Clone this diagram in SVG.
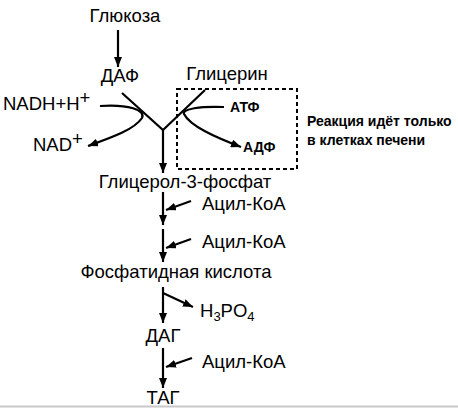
<svg xmlns="http://www.w3.org/2000/svg" width="458" height="408" viewBox="0 0 458 408">
<style>
text{font-family:"Liberation Sans",Arial,sans-serif;fill:#000}
.t{font-size:18.5px}
.b{font-size:14px;font-weight:bold}
.l{fill:none;stroke:#000;stroke-width:2.2}
</style>
<defs>
<marker id="ah" viewBox="0 0 10 8" refX="10" refY="4" markerWidth="10" markerHeight="8" markerUnits="userSpaceOnUse" orient="auto">
<path d="M0,0 L10,4 L0,8 Z" fill="#000"/>
</marker>
</defs>
<rect width="458" height="408" fill="#fff"/>
<g id="connectors">
<line class="l" x1="118" y1="30" x2="118" y2="67" marker-end="url(#ah)"/>
<polyline class="l" points="122,93 163,130 205,90"/>
<line class="l" x1="163" y1="130" x2="163" y2="173" marker-end="url(#ah)"/>
<path class="l" d="M100,106 C128,104 146,110 142,118 C134,130 110,138 88,146" marker-end="url(#ah)"/>
<path class="l" d="M224,107 C200,106 182,109 184,114 C190,126 215,137 241,147" marker-end="url(#ah)"/>
<line class="l" x1="163" y1="192" x2="163" y2="225" marker-end="url(#ah)"/>
<line class="l" x1="163" y1="229" x2="163" y2="262" marker-end="url(#ah)"/>
<line class="l" x1="191" y1="201" x2="166" y2="210" marker-end="url(#ah)"/>
<line class="l" x1="191" y1="239" x2="166" y2="248" marker-end="url(#ah)"/>
<line class="l" x1="163" y1="287" x2="163" y2="323" marker-end="url(#ah)"/>
<line class="l" x1="163" y1="293" x2="193" y2="307" marker-end="url(#ah)"/>
<line class="l" x1="163" y1="348" x2="163" y2="388" marker-end="url(#ah)"/>
<line class="l" x1="192" y1="358" x2="166" y2="367" marker-end="url(#ah)"/>
</g>
<g id="liver-box">
<rect x="177" y="89" width="120" height="80" fill="none" stroke="#000" stroke-width="2" stroke-dasharray="4 3"/>
</g>
<g id="glucose"><text class="t" x="125" y="22" text-anchor="middle">Глюкоза</text></g>
<g id="dap"><text class="t" x="120" y="82" text-anchor="middle">ДАФ</text></g>
<g id="glycerol"><text class="t" x="227" y="80" text-anchor="middle">Глицерин</text></g>
<g id="nadh"><text class="t" x="3" y="110">NADH+H<tspan dy="-6">+</tspan></text></g>
<g id="nad"><text class="t" x="33" y="151">NAD<tspan dy="-6">+</tspan></text></g>
<g id="atp"><text class="b" x="230" y="112">АТФ</text></g>
<g id="adp"><text class="b" x="243" y="152">АДФ</text></g>
<g id="note"><text class="b" x="307" y="126">Реакция идёт только</text><text class="b" x="307" y="145">в клетках печени</text></g>
<g id="g3p"><text class="t" x="185" y="188" text-anchor="middle">Глицерол-3-фосфат</text></g>
<g id="acyl1"><text class="t" x="202" y="210">Ацил-КоА</text></g>
<g id="acyl2"><text class="t" x="202" y="248">Ацил-КоА</text></g>
<g id="pa"><text class="t" x="176" y="278" text-anchor="middle">Фосфатидная кислота</text></g>
<g id="h3po4"><text class="t" x="200" y="317">H<tspan font-size="13" dy="4">3</tspan><tspan dy="-4">PO</tspan><tspan font-size="13" dy="4">4</tspan></text></g>
<g id="dag"><text class="t" x="163" y="342" text-anchor="middle">ДАГ</text></g>
<g id="acyl3"><text class="t" x="202" y="368">Ацил-КоА</text></g>
<g id="tag"><text class="t" x="163" y="404" text-anchor="middle">ТАГ</text></g>
<line x1="0" y1="406.5" x2="458" y2="406.5" stroke="#c8c8c8" stroke-width="2"/>
</svg>
